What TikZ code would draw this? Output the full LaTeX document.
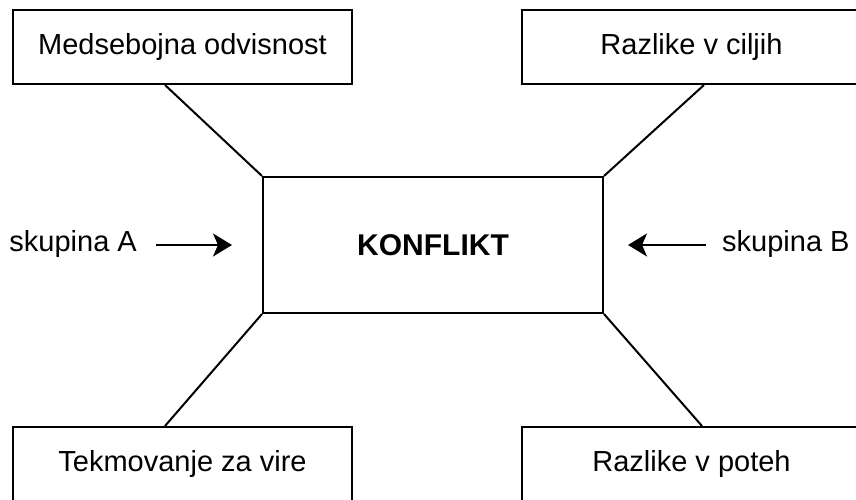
\documentclass[tikz,border=0pt]{standalone}
\usepackage{fontspec}
\setmainfont{Liberation Sans}
\usetikzlibrary{arrows.meta,calc}
\begin{document}
\begin{tikzpicture}[x=1pt,y=-1pt,
  cause/.style={draw,line width=2pt,minimum width=339pt,minimum height=74pt,
    inner sep=0pt,font=\fontsize{29}{34}\selectfont},
  core/.style={draw,line width=2pt,minimum width=340pt,minimum height=136pt,
    inner sep=0pt,font=\fontsize{30}{36}\selectfont\bfseries},
  party/.style={inner sep=0pt,font=\fontsize{29}{34}\selectfont},
  link/.style={line width=2pt},
  push/.style={line width=2pt,-{Stealth[length=19pt,width=23pt,inset=5pt]}}]
  \useasboundingbox (0,0) rectangle (856,500);
  \clip (0,0) rectangle (856,500);

  % central box and the four surrounding causes
  \node[core] (k) at (433,245) {KONFLIKT};
  \node[cause] (tl) at (182.5,47) {Medsebojna odvisnost};
  \node[cause] (tr) at (691.5,47) {Razlike v ciljih};
  \node[cause] (bl) at (182.5,464) {Tekmovanje za vire};
  \node[cause] (br) at (691.5,464) {Razlike v poteh};

  % diagonal links to the corners of the central box
  \draw[link] ([xshift=-17.5pt]tl.south) -- (k.north west);
  \draw[link] ([xshift=12.5pt]tr.south) -- (k.north east);
  \draw[link] ([xshift=-17.5pt]bl.north) -- (k.south west);
  \draw[link] ([xshift=10.5pt]br.north) -- (k.south east);

  % the two groups pushing towards the conflict
  \node[party,anchor=east] (a) at (137,244) {skupina A};
  \node[party,anchor=west] (b) at (722,244) {skupina B};
  \coordinate (ae) at (232,245);
  \coordinate (be) at (628,245);
  \draw[push] (a.east |- ae) ++(19,0) -- (ae);
  \draw[push] (b.west |- be) ++(-16,0) -- (be);
\end{tikzpicture}
\end{document}
